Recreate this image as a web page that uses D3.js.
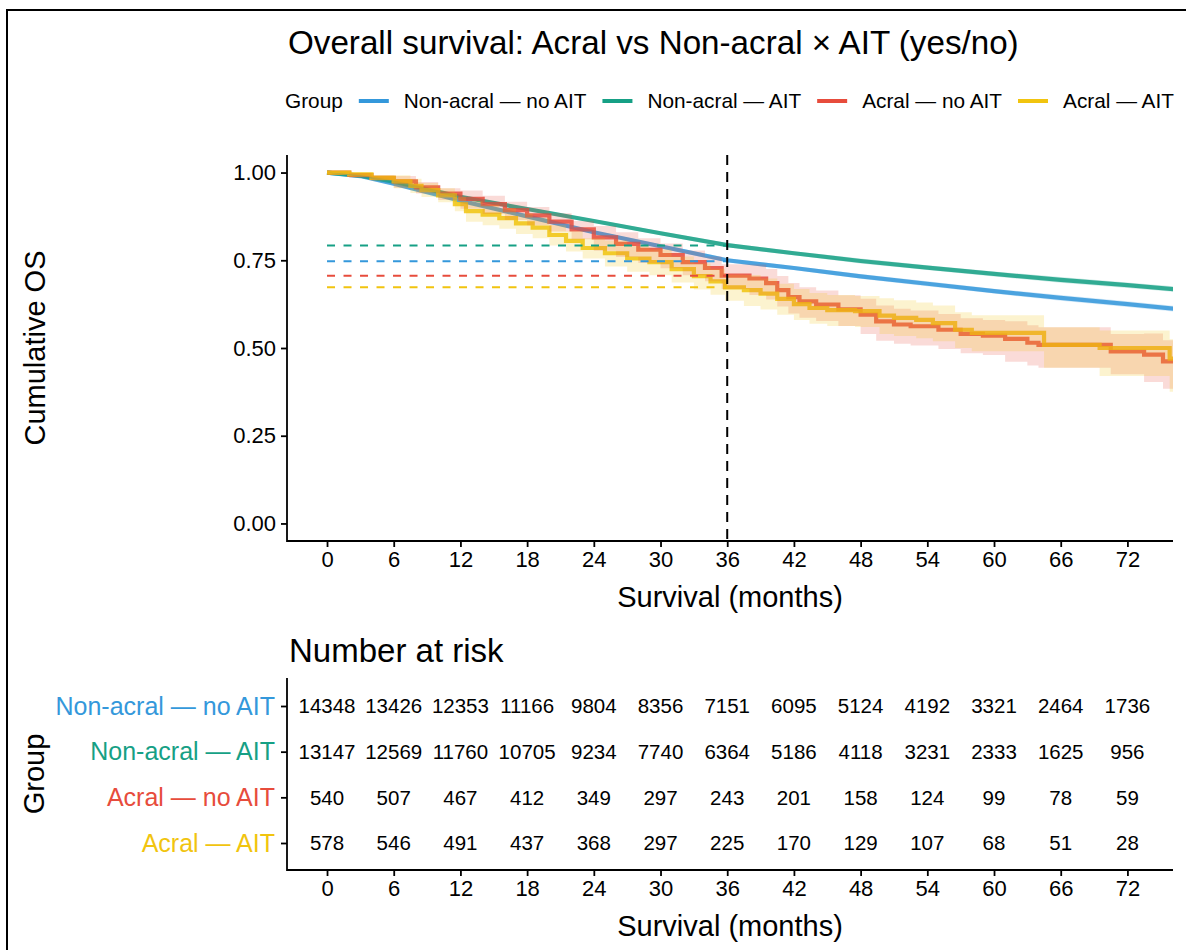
<!DOCTYPE html>
<html>
<head>
<meta charset="utf-8">
<script src="https://cdn.jsdelivr.net/npm/d3@7"></script>
<style>
  body { margin: 0; background: #fff; }
  text { font-family: "Liberation Sans", Arial, sans-serif; }
</style>
</head>
<body>
<svg id="chart" width="1186" height="950"></svg>
<script>
// ---------------------------
// Data
// ---------------------------
const groups = ['Non-acral — no AIT', 'Non-acral — AIT', 'Acral — no AIT', 'Acral — AIT'];
const groupColors = ['#3498DB', '#16A085', '#E74C3C', '#F1C40F'];
const monthTicks = [0, 6, 12, 18, 24, 30, 36, 42, 48, 54, 60, 66, 72];
const survTicks = [0, 0.25, 0.5, 0.75, 1];

// [month, survival, lower CI, upper CI]
const nonAcralNoAit = [
  [0, 1, 1, 1], [3, 0.990, 0.988, 0.992], [6, 0.968, 0.965, 0.971], [12, 0.920, 0.916, 0.924],
  [18, 0.875, 0.870, 0.880], [24, 0.830, 0.825, 0.835], [30, 0.790, 0.784, 0.796], [36, 0.750, 0.744, 0.756],
  [42, 0.728, 0.722, 0.734], [48, 0.704, 0.697, 0.711], [54, 0.683, 0.676, 0.690], [60, 0.662, 0.655, 0.669],
  [66, 0.643, 0.635, 0.651], [72, 0.625, 0.617, 0.633], [76.5, 0.611, 0.603, 0.619]
];
const nonAcralAit = [
  [0, 1, 1, 1], [3, 0.991, 0.989, 0.993], [6, 0.974, 0.971, 0.977], [12, 0.931, 0.927, 0.935],
  [18, 0.896, 0.891, 0.901], [24, 0.862, 0.857, 0.867], [30, 0.827, 0.821, 0.833], [36, 0.793, 0.787, 0.799],
  [42, 0.770, 0.764, 0.776], [48, 0.748, 0.741, 0.755], [54, 0.729, 0.722, 0.736], [60, 0.711, 0.704, 0.718],
  [66, 0.694, 0.686, 0.702], [72, 0.679, 0.671, 0.687], [76.5, 0.667, 0.659, 0.675]
];
const acralNoAit = [
  [0, 1, 1, 1], [2, 0.993, 0.985, 0.999], [4, 0.985, 0.977, 0.991], [6, 0.975, 0.957, 0.990],
  [8, 0.958, 0.940, 0.973], [10, 0.940, 0.922, 0.955], [12, 0.925, 0.897, 0.949], [14, 0.910, 0.882, 0.934],
  [16, 0.893, 0.865, 0.917], [18, 0.878, 0.850, 0.902], [20, 0.860, 0.832, 0.884], [22, 0.838, 0.810, 0.862],
  [24, 0.815, 0.777, 0.848], [26, 0.797, 0.759, 0.830], [28, 0.780, 0.742, 0.813], [30, 0.765, 0.727, 0.798],
  [32, 0.745, 0.707, 0.778], [34, 0.728, 0.690, 0.761], [35.5, 0.706, 0.668, 0.739], [38, 0.698, 0.651, 0.738],
  [39.5, 0.685, 0.638, 0.725], [40.5, 0.665, 0.618, 0.705], [41.5, 0.645, 0.598, 0.685], [42.5, 0.633, 0.586, 0.673],
  [44, 0.624, 0.577, 0.664], [46, 0.610, 0.563, 0.650], [48, 0.595, 0.540, 0.640], [49.4, 0.576, 0.521, 0.621],
  [51, 0.567, 0.512, 0.612], [52.5, 0.562, 0.507, 0.607], [55, 0.552, 0.497, 0.597], [57, 0.540, 0.485, 0.585],
  [59, 0.535, 0.480, 0.580], [61, 0.526, 0.461, 0.576], [63, 0.515, 0.450, 0.565], [64, 0.509, 0.444, 0.559],
  [70.5, 0.490, 0.425, 0.540], [73.5, 0.481, 0.403, 0.541], [75.2, 0.462, 0.384, 0.522], [76.5, 0.462, 0.384, 0.522]
];
const acralAit = [
  [0, 1, 1, 1], [2, 0.995, 0.987, 1.0], [4, 0.985, 0.977, 0.993], [6, 0.975, 0.955, 0.992],
  [7.5, 0.962, 0.942, 0.982], [8.5, 0.950, 0.930, 0.970], [10, 0.935, 0.915, 0.955], [11.5, 0.910, 0.890, 0.930],
  [12.5, 0.890, 0.860, 0.918], [14, 0.880, 0.850, 0.908], [15.5, 0.870, 0.840, 0.898], [17, 0.855, 0.825, 0.883],
  [18.5, 0.843, 0.813, 0.871], [20, 0.822, 0.792, 0.850], [21.5, 0.805, 0.775, 0.833], [23, 0.785, 0.755, 0.813],
  [25, 0.770, 0.732, 0.806], [27, 0.755, 0.717, 0.791], [29, 0.745, 0.707, 0.781], [31, 0.725, 0.687, 0.761],
  [33, 0.705, 0.667, 0.741], [34.5, 0.690, 0.652, 0.726], [35.8, 0.673, 0.635, 0.709], [37.5, 0.665, 0.620, 0.708],
  [39, 0.655, 0.610, 0.698], [40.5, 0.640, 0.595, 0.683], [42, 0.625, 0.580, 0.668], [43.4, 0.614, 0.569, 0.657],
  [45, 0.608, 0.563, 0.651], [47.5, 0.605, 0.560, 0.648], [49.7, 0.592, 0.540, 0.642], [51, 0.586, 0.534, 0.636],
  [53, 0.580, 0.528, 0.630], [54.5, 0.571, 0.519, 0.621], [56.5, 0.552, 0.500, 0.602], [58, 0.543, 0.491, 0.593],
  [64.5, 0.509, 0.444, 0.559], [69.5, 0.500, 0.420, 0.550], [75.8, 0.470, 0.375, 0.525], [76.5, 0.470, 0.375, 0.525]
];
const curves = [nonAcralNoAit, nonAcralAit, acralNoAit, acralAit];
const stepped = [false, false, true, true];

// survival at the 36-month landmark
const landmark = 36;
const survAtLandmark = [0.747, 0.792, 0.706, 0.673];

// number at risk
const riskNonAcralNoAit = [14348, 13426, 12353, 11166, 9804, 8356, 7151, 6095, 5124, 4192, 3321, 2464, 1736];
const riskNonAcralAit = [13147, 12569, 11760, 10705, 9234, 7740, 6364, 5186, 4118, 3231, 2333, 1625, 956];
const riskAcralNoAit = [540, 507, 467, 412, 349, 297, 243, 201, 158, 124, 99, 78, 59];
const riskAcralAit = [578, 546, 491, 437, 368, 297, 225, 170, 129, 107, 68, 51, 28];
const riskRows = [riskNonAcralNoAit, riskNonAcralAit, riskAcralNoAit, riskAcralAit];

// ---------------------------
// Layout
// ---------------------------
const svg = d3.select('#chart');
const panel = { left: 287, right: 1173, top: 155, bottom: 541 };
const table = { top: 678, bottom: 870 };

const x = d3.scaleLinear().domain([-3.6, 76.1]).range([panel.left, panel.right]);
const y = d3.scaleLinear().domain([-0.05, 1.05]).range([panel.bottom, panel.top]);
const yRisk = d3.scalePoint().domain(groups).range([706, 843]);

// outer frame
svg.append('rect')
  .attr('x', 7).attr('y', 10).attr('width', 1200).attr('height', 1000)
  .attr('fill', 'none').attr('stroke', '#000').attr('stroke-width', 2);

// title
svg.append('text')
  .attr('x', 288).attr('y', 54)
  .style('font-size', '33.2px')
  .text('Overall survival: Acral vs Non-acral × AIT (yes/no)');

// ---------------------------
// Legend
// ---------------------------
const legend = svg.append('g').attr('transform', 'translate(285,101)');
let lx = 0;
const lgTitle = legend.append('text').attr('x', lx).attr('dy', '0.35em')
  .style('font-size', '20.8px').text('Group');
lx += lgTitle.node().getComputedTextLength() + 16;
groups.forEach((g, i) => {
  legend.append('line')
    .attr('x1', lx).attr('x2', lx + 30).attr('y1', 0).attr('y2', 0)
    .attr('stroke', groupColors[i]).attr('stroke-width', 4);
  lx += 30 + 15;
  const t = legend.append('text').attr('x', lx).attr('dy', '0.35em')
    .style('font-size', '20.8px').text(g);
  lx += t.node().getComputedTextLength() + 16;
});

// ---------------------------
// Survival curves
// ---------------------------
svg.append('defs').append('clipPath').attr('id', 'panel-clip')
  .append('rect')
  .attr('x', panel.left).attr('y', panel.top)
  .attr('width', panel.right - panel.left).attr('height', panel.bottom - panel.top);

const plot = svg.append('g').attr('clip-path', 'url(#panel-clip)');

curves.forEach((c, i) => {
  const line = d3.line()
    .x(d => x(d[0])).y(d => y(d[1]))
    .curve(stepped[i] ? d3.curveStepAfter : d3.curveLinear);
  plot.append('path')
    .datum(c)
    .attr('d', line)
    .attr('fill', 'none')
    .attr('stroke', groupColors[i])
    .attr('stroke-opacity', 0.85)
    .attr('stroke-width', 4.2);
});

curves.forEach((c, i) => {
  const area = d3.area()
    .x(d => x(d[0])).y0(d => y(d[2])).y1(d => y(d[3]))
    .curve(stepped[i] ? d3.curveStepAfter : d3.curveLinear);
  plot.append('path')
    .datum(c)
    .attr('d', area)
    .attr('fill', groupColors[i])
    .attr('fill-opacity', 0.2);
});

// landmark reference lines
plot.selectAll('.landmark-h')
  .data(survAtLandmark)
  .enter()
  .append('line')
  .attr('class', 'landmark-h')
  .attr('x1', x(0)).attr('x2', x(landmark))
  .attr('y1', d => y(d)).attr('y2', d => y(d))
  .attr('stroke', (d, i) => groupColors[i])
  .attr('stroke-width', 2)
  .attr('stroke-dasharray', '8,8.5');

plot.append('line')
  .attr('x1', x(landmark)).attr('x2', x(landmark))
  .attr('y1', panel.top).attr('y2', panel.bottom)
  .attr('stroke', '#000').attr('stroke-width', 2)
  .attr('stroke-dasharray', '10,7');

// ---------------------------
// Axes (main panel)
// ---------------------------
function styleAxis(g, fontSize) {
  g.select('.domain').remove();
  g.selectAll('.tick line').attr('stroke', '#000').attr('stroke-width', 1.8);
  g.selectAll('.tick text').style('font-size', fontSize).style('fill', '#000');
}

const yAxis = svg.append('g')
  .attr('transform', `translate(${panel.left},0)`)
  .call(d3.axisLeft(y).tickValues(survTicks).tickFormat(d3.format('.2f')).tickSizeOuter(0).tickSize(6).tickPadding(5));
styleAxis(yAxis, '22px');

const xAxis = svg.append('g')
  .attr('transform', `translate(0,${panel.bottom})`)
  .call(d3.axisBottom(x).tickValues(monthTicks).tickSizeOuter(0).tickSize(6).tickPadding(4));
styleAxis(xAxis, '22px');

svg.append('path')
  .attr('d', `M${panel.left},${panel.top}V${panel.bottom}H${panel.right}`)
  .attr('fill', 'none').attr('stroke', '#000').attr('stroke-width', 1.8);

svg.append('text')
  .attr('x', (panel.left + panel.right) / 2).attr('y', 607)
  .attr('text-anchor', 'middle').style('font-size', '29px')
  .text('Survival (months)');

svg.append('text')
  .attr('transform', `translate(35,${(panel.top + panel.bottom) / 2}) rotate(-90)`)
  .attr('text-anchor', 'middle').attr('dy', '0.35em').style('font-size', '29px')
  .text('Cumulative OS');

// ---------------------------
// Number at risk table
// ---------------------------
svg.append('text')
  .attr('x', 289).attr('y', 662)
  .style('font-size', '33px')
  .text('Number at risk');

riskRows.forEach((row, i) => {
  svg.append('g')
    .selectAll('text')
    .data(row)
    .enter()
    .append('text')
    .attr('x', (d, j) => x(monthTicks[j]))
    .attr('y', yRisk(groups[i]))
    .attr('dy', '0.35em')
    .attr('text-anchor', 'middle')
    .style('font-size', '20.5px')
    .text(d => d);
});

const yRiskAxis = svg.append('g')
  .attr('transform', `translate(${panel.left},0)`)
  .call(d3.axisLeft(yRisk).tickSize(6).tickPadding(6).tickSizeOuter(0));
styleAxis(yRiskAxis, '25px');
yRiskAxis.selectAll('.tick text').style('fill', (d, i) => groupColors[i]);

const xRiskAxis = svg.append('g')
  .attr('transform', `translate(0,${table.bottom})`)
  .call(d3.axisBottom(x).tickValues(monthTicks).tickSizeOuter(0).tickSize(6).tickPadding(4));
styleAxis(xRiskAxis, '22px');

svg.append('path')
  .attr('d', `M${panel.left},${table.top}V${table.bottom}H${panel.right}`)
  .attr('fill', 'none').attr('stroke', '#000').attr('stroke-width', 1.8);

svg.append('text')
  .attr('x', (panel.left + panel.right) / 2).attr('y', 936)
  .attr('text-anchor', 'middle').style('font-size', '29px')
  .text('Survival (months)');

svg.append('text')
  .attr('transform', `translate(34,${(table.top + table.bottom) / 2}) rotate(-90)`)
  .attr('text-anchor', 'middle').attr('dy', '0.35em').style('font-size', '29px')
  .text('Group');
</script>
</body>
</html>
